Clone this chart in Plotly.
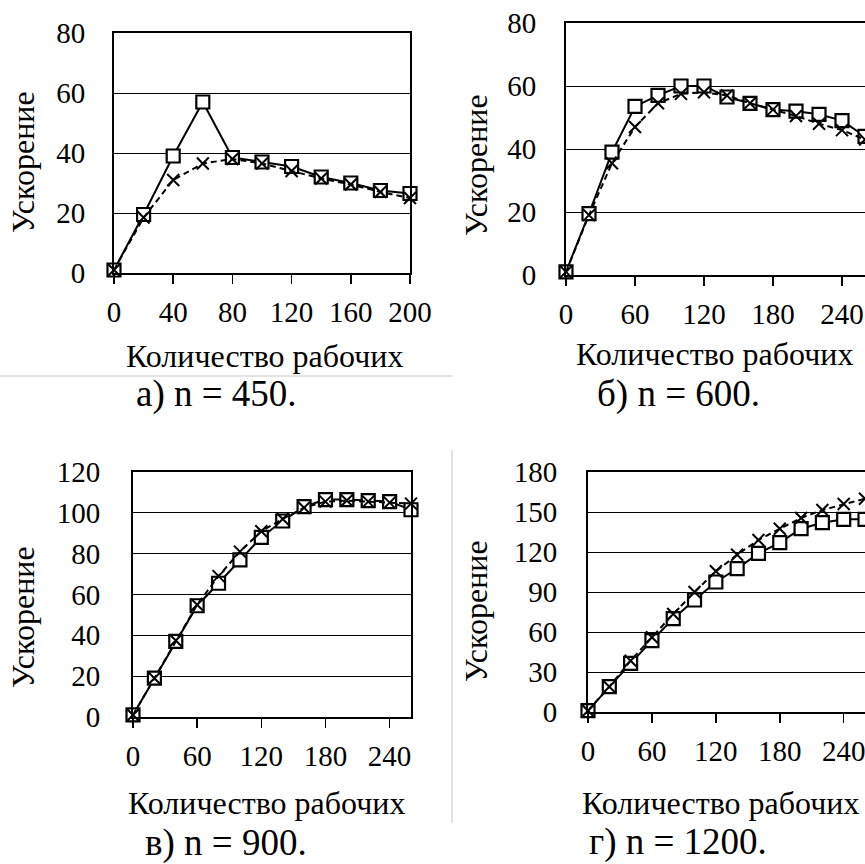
import plotly.graph_objects as go

W, H = 865, 864

# ---- data ----
x_a = [0, 20, 40, 60, 80, 100, 120, 140, 160, 180, 200]
sq_a = [1, 19.5, 39, 57, 38.5, 37, 35.5, 32, 30, 27.5, 26.5]
cr_a = [1, 18.5, 31, 36.5, 38, 36.5, 34, 31.5, 29.5, 27, 25]

x_b = [0, 20, 40, 60, 80, 100, 120, 140, 160, 180, 200, 220, 240, 260]
sq_b = [1, 19.5, 39, 53.5, 57, 60, 60, 56.5, 54.5, 52.5, 52, 51, 49, 44]
cr_b = [1, 19, 35.5, 47, 54.5, 57.5, 58, 57, 54.5, 52.5, 50.5, 48, 46, 43]

x_c = [0, 20, 40, 60, 80, 100, 120, 140, 160, 180, 200, 220, 240, 260]
sq_c = [1, 19, 37, 54.5, 65.5, 77, 88, 96, 103, 106.5, 106.5, 106, 105.5, 101.5]
cr_c = [1, 19, 37.5, 55, 69, 81, 91, 97, 102.5, 105.5, 106, 105.5, 105, 104.5]

x_d = [0, 20, 40, 60, 80, 100, 120, 140, 160, 180, 200, 220, 240, 260]
sq_d = [1, 19, 36.5, 53.5, 70, 84, 97.5, 107.5, 119, 127, 137.5, 142, 144.5, 144.5]
cr_d = [1, 19, 38.5, 56, 73.5, 90, 105.5, 118, 129, 137.5, 145.5, 151.5, 156, 160]

panels = [
    dict(x=x_a, sq=sq_a, cr=cr_a, xr=[0, 200], xdt=40, yr=[0, 80], ydt=20,
         cap="а) n = 450."),
    dict(x=x_b, sq=sq_b, cr=cr_b, xr=[0, 260], xdt=60, yr=[0, 80], ydt=20,
         cap="б) n = 600."),
    dict(x=x_c, sq=sq_c, cr=cr_c, xr=[0, 260], xdt=60, yr=[0, 120], ydt=20,
         cap="в) n = 900."),
    dict(x=x_d, sq=sq_d, cr=cr_d, xr=[0, 260], xdt=60, yr=[0, 180], ydt=30,
         cap="г) n = 1200."),
]

# layout geometry in pixels: (left, right, top, bottom)
boxes = [(114, 410, 33, 273), (566, 866, 23, 275),
         (133, 411, 472, 717), (588, 866, 472, 712)]
ystand = [21, 22, 25, 23]
xtitle_pos = [(264, 356), (714, 354), (266, 803), (720, 803)]
ytitle_pos = [(23, 162), (476, 165), (23, 617), (476, 611)]
cap_pos = [(216, 394), (678, 394), (226, 843), (678, 842)]

FONT = "Liberation Serif, Times New Roman, DejaVu Serif, serif"
TICK = 29
TITLE = 32
CAP = 37

fig = go.Figure()
annotations = []
for i, p in enumerate(panels):
    k = "" if i == 0 else str(i + 1)
    xa, ya = "x" + k, "y" + k
    fig.add_trace(go.Scatter(
        x=p["x"], y=p["sq"], xaxis=xa, yaxis=ya, mode="lines+markers",
        line=dict(color="black", width=2),
        marker=dict(symbol="square", size=13, color="white",
                    line=dict(color="black", width=2.2)),
        showlegend=False, cliponaxis=False))
    fig.add_trace(go.Scatter(
        x=p["x"], y=p["cr"], xaxis=xa, yaxis=ya, mode="lines+markers",
        line=dict(color="black", width=2, dash="6px,4px"),
        marker=dict(symbol="x-thin", size=12,
                    line=dict(color="black", width=2)),
        showlegend=False, cliponaxis=False))
    l, r, t, b = boxes[i]
    fig.update_layout({
        "xaxis" + k: dict(
            domain=[l / W, min(r / W, 1.0)], range=p["xr"], dtick=p["xdt"],
            tick0=0, anchor=ya, showgrid=False, zeroline=False,
            automargin=False, ticklabeloverflow="allow",
            showline=True, linecolor="black", linewidth=2, mirror=True,
            ticks="outside", ticklen=9, tickwidth=1.5, tickcolor="black",
            tickfont=dict(family=FONT, size=TICK, color="black"),
            ticklabelstandoff=3, fixedrange=True),
        "yaxis" + k: dict(
            domain=[1 - b / H, 1 - t / H], range=p["yr"], dtick=p["ydt"],
            tick0=0, anchor=xa, showgrid=True, gridcolor="black",
            gridwidth=1, zeroline=False, automargin=False,
            ticklabeloverflow="allow",
            showline=True, linecolor="black", linewidth=2, mirror=True,
            ticks="", tickfont=dict(family=FONT, size=TICK, color="black"),
            ticklabelstandoff=ystand[i], fixedrange=True),
    })
    annotations.append(dict(
        text="Количество рабочих", x=xtitle_pos[i][0] / W,
        y=1 - xtitle_pos[i][1] / H, xref="paper", yref="paper",
        showarrow=False, xanchor="center", yanchor="middle",
        font=dict(family=FONT, size=TITLE, color="black")))
    annotations.append(dict(
        text="Ускорение", x=ytitle_pos[i][0] / W,
        y=1 - ytitle_pos[i][1] / H, xref="paper", yref="paper",
        showarrow=False, xanchor="center", yanchor="middle", textangle=-90,
        font=dict(family=FONT, size=TITLE, color="black")))
    annotations.append(dict(
        text=p["cap"], x=cap_pos[i][0] / W,
        y=1 - cap_pos[i][1] / H, xref="paper", yref="paper",
        showarrow=False, xanchor="center", yanchor="middle",
        font=dict(family=FONT, size=CAP, color="black")))

shapes = [
    dict(type="line", xref="paper", yref="paper", x0=0, x1=452 / W,
         y0=1 - 376 / H, y1=1 - 376 / H,
         line=dict(color="#c8c8c8", width=1)),
    dict(type="line", xref="paper", yref="paper", x0=452 / W, x1=452 / W,
         y0=1 - 450 / H, y1=1 - 823 / H,
         line=dict(color="#c8c8c8", width=1)),
]

fig.update_layout(
    template="none",
    width=W, height=H, margin=dict(l=0, r=0, t=0, b=0, pad=0),
    font=dict(family=FONT, color="black"),
    paper_bgcolor="white", plot_bgcolor="white",
    annotations=annotations, shapes=shapes,
)

fig.write_html("out.html",
               config={"displayModeBar": False, "staticPlot": True},
               post_script="document.body.style.margin='0';"
                           "document.body.style.overflow='hidden';")
